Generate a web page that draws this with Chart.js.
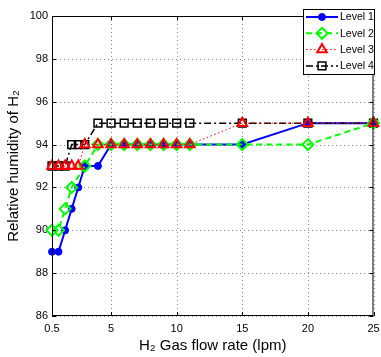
<!DOCTYPE html>
<html>
<head>
<meta charset="utf-8">
<script src="https://cdn.jsdelivr.net/npm/chart.js@4.4.1/dist/chart.umd.min.js"></script>
<style>
  html, body { margin: 0; padding: 0; background: #fff; }
  #wrap { width: 381px; height: 357px; }
</style>
</head>
<body>
<div id="wrap"><canvas id="myChart" width="381" height="357"></canvas></div>
<script>
// valores
const xValues = [0.5, 1, 1.5, 2, 2.5, 3, 4, 5, 6, 7, 8, 9, 10, 11, 15, 20, 25];
const level1 = [89, 89, 90, 91, 92, 93, 93, 94, 94, 94, 94, 94, 94, 94, 94, 95, 95];
const level2 = [90, 90, 91, 92, null, 93, 94, 94, 94, 94, 94, 94, 94, 94, 94, 94, 95];
const level3 = [93, 93, 93, 93, 93, 94, 94, 94, 94, 94, 94, 94, 94, 94, 95, 95, 95];
const level4 = [93, 93, 93, 94, 94, 94, 95, 95, 95, 95, 95, 95, 95, 95, 95, 95, 95];
const seriesNames = ['Level 1', 'Level 2', 'Level 3', 'Level 4'];
const xTicks = [0.5, 5, 10, 15, 20, 25];

const FONT = 'Liberation Sans, Arial, sans-serif';

function puntos(ys) {
    let out = [];
    ys.forEach((y, i) => {
        if (y !== null) out.push({ x: xValues[i], y: y });
    });
    return out;
}

const estilos = [
    { color: '#0000ff', dash: [], width: 2, point: 'circle', radius: 3.5, fill: '#0000ff', pw: 1, order: 3 },
    { color: '#00ff00', dash: [6, 4], width: 2, point: 'rectRot', radius: 5.5, fill: 'rgba(0,0,0,0)', pw: 2, order: 1 },
    { color: '#ff0000', dash: [1.5, 2.5], width: 1, point: 'triangle', radius: 5.5, fill: 'rgba(0,0,0,0)', pw: 2, order: 0 },
    { color: '#000000', dash: [7, 3, 2, 3], width: 1.5, point: 'rect', radius: 5.5, fill: 'rgba(0,0,0,0)', pw: 1.5, order: 2 }
];

const datos = [level1, level2, level3, level4];

const datasets = datos.map((d, i) => {
    let e = estilos[i];
    return {
        label: seriesNames[i],
        data: puntos(d),
        borderColor: e.color,
        backgroundColor: e.fill,
        borderWidth: e.width,
        borderDash: e.dash,
        pointStyle: e.point,
        pointRadius: e.radius,
        pointBorderWidth: e.pw,
        pointBorderColor: e.color,
        pointBackgroundColor: e.fill,
        fill: false,
        tension: 0,
        spanGaps: true,
        clip: false,
        order: e.order
    };
});

function dibujarMarca(ctx, e, x, y) {
    ctx.save();
    ctx.setLineDash([]);
    ctx.lineWidth = e.pw;
    ctx.strokeStyle = e.color;
    ctx.fillStyle = e.fill;
    ctx.beginPath();
    let r = e.radius;
    if (e.point === 'circle') {
        ctx.arc(x, y, r, 0, Math.PI * 2);
    } else if (e.point === 'rectRot') {
        ctx.moveTo(x, y - r); ctx.lineTo(x + r, y); ctx.lineTo(x, y + r); ctx.lineTo(x - r, y); ctx.closePath();
    } else if (e.point === 'triangle') {
        let a = -Math.PI / 2;
        ctx.moveTo(x + Math.cos(a) * r, y + Math.sin(a) * r);
        a += 2 * Math.PI / 3;
        ctx.lineTo(x + Math.cos(a) * r, y + Math.sin(a) * r);
        a += 2 * Math.PI / 3;
        ctx.lineTo(x + Math.cos(a) * r, y + Math.sin(a) * r);
        ctx.closePath();
    } else {
        let s = r * Math.SQRT1_2;
        ctx.rect(x - s, y - s, 2 * s, 2 * s);
    }
    ctx.fill();
    ctx.stroke();
    ctx.restore();
}

// rejilla punteada antes de las series
const rejillaPlugin = {
    id: 'rejilla',
    beforeDatasetsDraw(chart) {
        const ctx = chart.ctx;
        const a = chart.chartArea;
        const xs = chart.scales.x, ys = chart.scales.y;
        ctx.save();
        ctx.strokeStyle = '#8c8c8c';
        ctx.lineWidth = 1;
        ctx.setLineDash([1, 3]);
        ctx.beginPath();
        xs.ticks.forEach(t => {
            let px = Math.round(xs.getPixelForValue(t.value)) + 0.5;
            ctx.moveTo(px, a.top); ctx.lineTo(px, a.bottom);
        });
        ys.ticks.forEach(t => {
            let py = Math.round(ys.getPixelForValue(t.value)) + 0.5;
            ctx.moveTo(a.left, py); ctx.lineTo(a.right, py);
        });
        ctx.stroke();
        ctx.restore();
    }
};

// marco, ticks interiores y leyenda
const marcoPlugin = {
    id: 'marco',
    afterDraw(chart) {
        const ctx = chart.ctx;
        const a = chart.chartArea;
        const xs = chart.scales.x, ys = chart.scales.y;
        ctx.save();
        ctx.strokeStyle = '#000';
        ctx.lineWidth = 1;
        ctx.setLineDash([]);
        ctx.strokeRect(a.left + 0.5, a.top + 0.5, a.right - a.left - 1, a.bottom - a.top - 1);
        ctx.beginPath();
        xs.ticks.forEach(t => {
            let px = Math.round(xs.getPixelForValue(t.value)) + 0.5;
            ctx.moveTo(px, a.bottom); ctx.lineTo(px, a.bottom - 4);
            ctx.moveTo(px, a.top); ctx.lineTo(px, a.top + 4);
        });
        ys.ticks.forEach(t => {
            let py = Math.round(ys.getPixelForValue(t.value)) + 0.5;
            ctx.moveTo(a.left, py); ctx.lineTo(a.left + 4, py);
            ctx.moveTo(a.right, py); ctx.lineTo(a.right - 4, py);
        });
        ctx.stroke();

        // leyenda
        const lx = 303, ly = 9, lw = 72, lh = 66;
        ctx.fillStyle = '#fff';
        ctx.fillRect(lx, ly, lw, lh);
        ctx.strokeRect(lx + 0.5, ly + 0.5, lw - 1, lh - 1);
        ctx.font = '10.5px ' + FONT;
        ctx.textBaseline = 'middle';
        ctx.textAlign = 'left';
        estilos.forEach((e, i) => {
            let y = ly + 8 + i * 16.3;
            ctx.beginPath();
            ctx.strokeStyle = e.color;
            ctx.lineWidth = e.width;
            ctx.setLineDash(e.dash);
            ctx.moveTo(lx + 3, y); ctx.lineTo(lx + 35, y);
            ctx.stroke();
            dibujarMarca(ctx, e, lx + 19, y);
            ctx.fillStyle = '#000';
            ctx.fillText(seriesNames[i], lx + 37, y + 0.5);
        });
        ctx.restore();
    }
};

const graph = document.querySelector('#myChart');
const config = {
    type: 'line',
    data: { datasets: datasets },
    plugins: [rejillaPlugin, marcoPlugin],
    options: {
        responsive: false,
        animation: false,
        layout: { padding: { left: 0, right: 6, top: 16, bottom: 0 } },
        plugins: { legend: { display: false }, tooltip: { enabled: false } },
        scales: {
            x: {
                type: 'linear',
                min: 0.5,
                max: 25,
                afterBuildTicks: (scale) => { scale.ticks = xTicks.map(v => ({ value: v })); },
                afterFit: (scale) => { scale.height = 41; scale.paddingLeft = 0; scale.paddingRight = 0; },
                grid: { display: false, drawTicks: false },
                border: { display: false },
                ticks: { color: '#000', font: { family: FONT, size: 11 }, padding: 6, maxRotation: 0, autoSkip: false,
                    callback: (v) => String(v) },
                title: { display: true, text: 'H\u2082 Gas flow rate (lpm)', color: '#000',
                    font: { family: FONT, size: 15 }, padding: { top: 0, bottom: 2 } }
            },
            y: {
                min: 86,
                max: 100,
                afterFit: (scale) => { scale.width = 52; scale.paddingTop = 0; scale.paddingBottom = 0; },
                grid: { display: false, drawTicks: false },
                border: { display: false },
                ticks: { stepSize: 2, color: '#000', font: { family: FONT, size: 11 }, padding: 4 },
                title: { display: true, text: 'Relative humidity of H\u2082', color: '#000',
                    font: { family: FONT, size: 15 }, padding: { top: 5, bottom: 0 } }
            }
        }
    }
};

const graf = new Chart(graph, config);
</script>
</body>
</html>
